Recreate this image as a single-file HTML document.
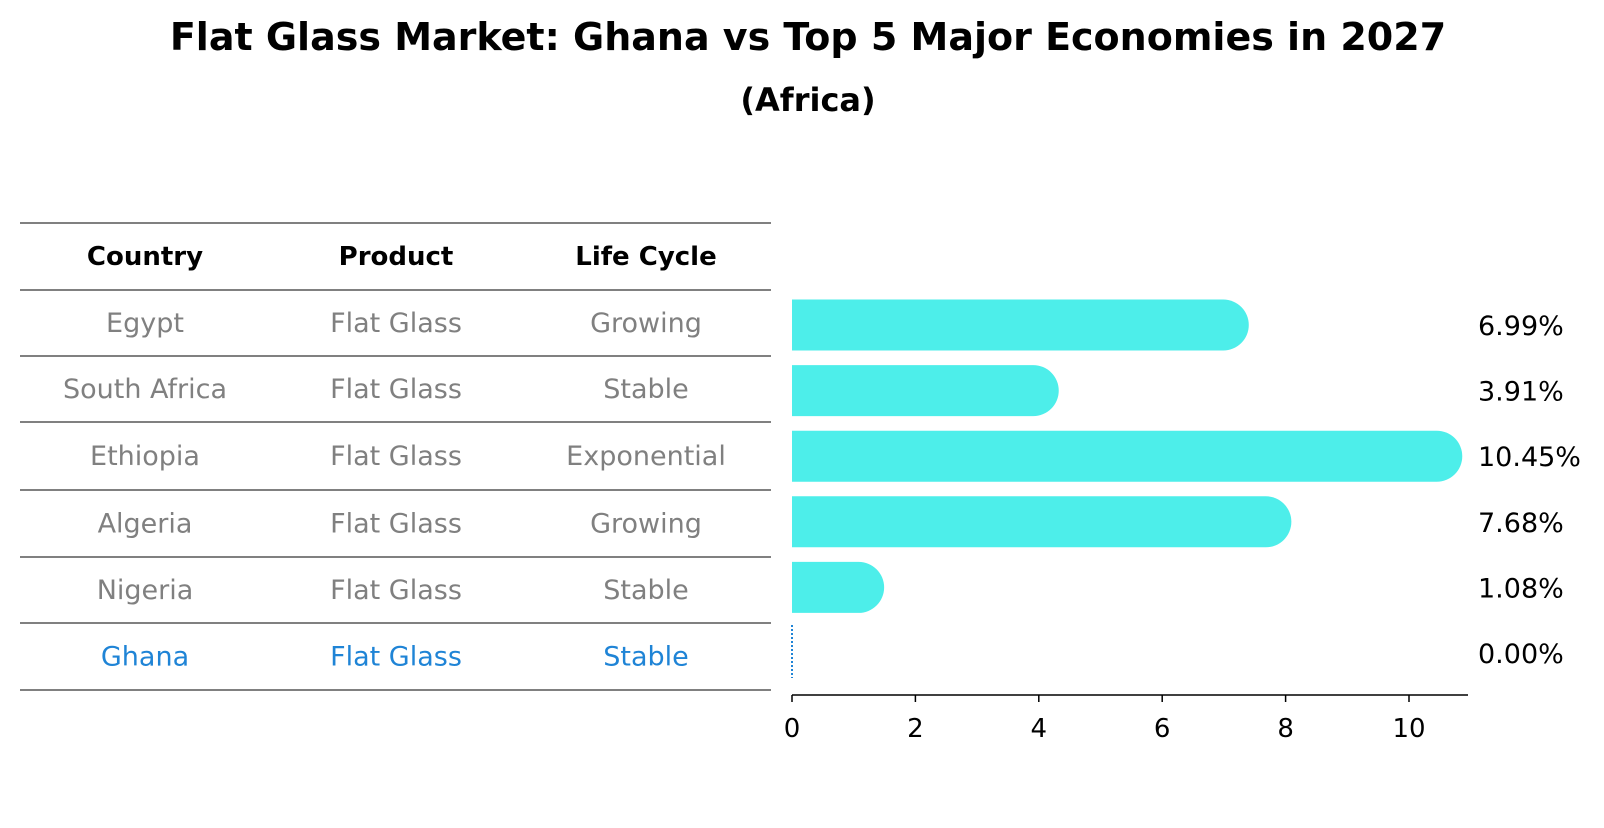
<!DOCTYPE html>
<html><head><meta charset="utf-8"><style>
body{margin:0;background:#fff;font-family:"Liberation Sans","DejaVu Sans",sans-serif;}
svg text{font-family:"DejaVu Sans","Liberation Sans",sans-serif;}
</style></head><body>
<svg width="1604" height="823" xmlns="http://www.w3.org/2000/svg" id="chart">
<text x="808" y="50" text-anchor="middle" font-size="38" font-weight="bold">Flat Glass Market: Ghana vs Top 5 Major Economies in 2027</text>
<text x="808" y="111" text-anchor="middle" font-size="32" font-weight="bold">(Africa)</text>
<g id="table"></g>
<g id="bars"></g>
<g id="axis"></g>
</svg>
<script>
const countries=["Egypt","South Africa","Ethiopia","Algeria","Nigeria","Ghana"];
const products=["Flat Glass","Flat Glass","Flat Glass","Flat Glass","Flat Glass","Flat Glass"];
const lifeCycles=["Growing","Stable","Exponential","Growing","Stable","Stable"];
const values=[6.99,3.91,10.45,7.68,1.08,0.00];
const valueLabels=["6.99%","3.91%","10.45%","7.68%","1.08%","0.00%"];
const xTicks=[0,2,4,6,8,10];
const NS="http://www.w3.org/2000/svg";
function mk(tag,attrs,parent){const e=document.createElementNS(NS,tag);for(const k in attrs)e.setAttribute(k,attrs[k]);parent.appendChild(e);return e;}
const xs=v=>792+v*61.7;
const rowY=i=>325+i*65.6;
const R=25.5;
const table=document.getElementById('table');
const lineYs=[223,290,356,422,490,557,623,690];
lineYs.forEach(y=>{const l=mk('line',{x1:20,x2:771,y1:y,y2:y,stroke:'#000','stroke-width':1},table);

});
const colX=[145,396,646];
["Country","Product","Life Cycle"].forEach((h,j)=>{const t=mk('text',{x:colX[j],y:265,'text-anchor':'middle','font-size':26,'font-weight':'bold'},table);t.textContent=h;

});
countries.forEach((c,i)=>{const y=(lineYs[i+1]+lineYs[i+2])/2+9;const col=c==="Ghana"?"#1f84d6":"#808080";
[c,products[i],lifeCycles[i]].forEach((s,j)=>{const t=mk('text',{x:colX[j],y:y,'text-anchor':'middle','font-size':27,fill:col},table);t.textContent=s;

});});
const bars=document.getElementById('bars');
values.forEach((v,i)=>{const cy=rowY(i);
if(v>0){const p=mk('path',{d:`M${xs(0)},${cy-R} H${xs(v)} A${R},${R} 0 0 1 ${xs(v)},${cy+R} H${xs(0)} Z`,fill:'#4deeea'},bars);

}
else{const l=mk('line',{x1:xs(0),x2:xs(0),y1:cy-28,y2:cy+25,stroke:'#1f84d6','stroke-width':2,'stroke-dasharray':'2,2'},bars);

}
const t=mk('text',{x:1478,y:cy+10,'font-size':27},bars);t.textContent=valueLabels[i];

});
const axis=document.getElementById('axis');
mk('line',{x1:792,x2:1468,y1:695,y2:695,stroke:'#000','stroke-width':1.5},axis);
xTicks.forEach(v=>{mk('line',{x1:xs(v),x2:xs(v),y1:695,y2:702,stroke:'#000','stroke-width':1.5},axis);
const t=mk('text',{x:xs(v),y:737,'text-anchor':'middle','font-size':26},axis);t.textContent=v;

});
</script>
</body></html>
